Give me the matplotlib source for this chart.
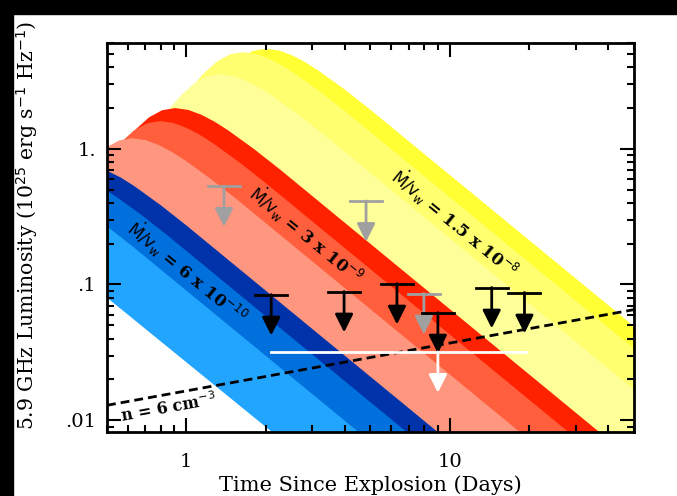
import matplotlib.pyplot as plt
from matplotlib.patches import Rectangle

plt.rcParams['font.family'] = ['DejaVu Serif']

# ---- model light curves (time in days, luminosity in 1e25 erg/s/Hz) ----
t_y1 = [0.49, 0.635, 0.800, 1.007, 1.268, 1.422, 1.596, 1.791, 2.009, 2.254, 2.529, 2.838, 3.184, 4.009, 5.047, 60.0]
L_y1 = [0.305, 0.561, 0.975, 1.694, 2.938, 3.793, 4.645, 5.248, 5.445, 5.272, 4.853, 4.315, 3.741, 2.710, 1.905, 0.0368]
t_y2 = [0.485, 0.520, 0.655, 0.824, 1.038, 1.164, 1.306, 1.466, 1.644, 1.845, 2.070, 2.323, 2.606, 3.281, 4.130, 60.0]
L_y2 = [0.449, 0.530, 0.920, 1.600, 2.773, 3.581, 4.385, 4.955, 5.140, 4.977, 4.581, 4.074, 3.532, 2.559, 1.799, 0.0252]
t_y3 = [0.478, 0.536, 0.675, 0.849, 0.953, 1.069, 1.199, 1.346, 1.510, 1.694, 1.901, 2.133, 2.685, 3.381, 60.0]
L_y3 = [0.480, 0.632, 1.099, 1.905, 2.460, 3.013, 3.404, 3.532, 3.420, 3.148, 2.799, 2.427, 1.758, 1.236, 0.01256]

t_r1 = [0.455, 0.573, 0.643, 0.721, 0.809, 0.908, 1.019, 1.143, 1.282, 1.439, 1.811, 2.280, 57.3]
L_r1 = [0.619, 1.074, 1.387, 1.698, 1.919, 1.991, 1.928, 1.774, 1.578, 1.368, 0.991, 0.697, 0.00406]
t_r2 = [0.491, 0.564, 0.633, 0.710, 0.797, 0.894, 1.003, 1.126, 1.263, 1.590, 2.002, 56.4]
L_r2 = [0.815, 1.112, 1.361, 1.538, 1.596, 1.545, 1.422, 1.265, 1.096, 0.794, 0.558, 0.00271]
t_r3 = [0.496, 0.557, 0.6245, 0.7007, 0.786, 0.882, 0.990, 1.246, 1.569, 31.3]
L_r3 = [1.019, 1.151, 1.194, 1.156, 1.064, 0.946, 0.820, 0.594, 0.418, 0.00352]

t_b1 = [0.492, 0.565, 0.634, 0.798, 1.005, 12.65]
L_b1 = [0.700, 0.612, 0.531, 0.385, 0.2704, 0.00476]
t_b2 = [0.494, 0.542, 0.682, 0.859, 10.81]
L_b2 = [0.497, 0.443, 0.321, 0.2254, 0.00397]
t_b3 = [0.491, 0.632, 7.96]
L_b3 = [0.276, 0.188, 0.00331]
t_low = [0.48, 3.0]
L_low = [0.0855, 0.00473]

# ---- upper limits ----
lim_t_black = [2.10, 3.97, 6.30, 9.01, 14.42, 19.2]
lim_L_black = [0.0843, 0.0888, 0.1016, 0.0621, 0.0950, 0.0873]
lim_t_gray = [1.39, 4.81, 7.97]
lim_L_gray = [0.532, 0.412, 0.0858]
white_t_range = [2.10, 19.4]
white_t = 9.01
white_L = 0.0319

# density line n = 6 cm^-3
n6_t = [0.5, 50.0]
n6_L = [0.0129, 0.0653]

curves = [
    (t_y1, L_y1, '#FFFF33'),
    (t_y2, L_y2, '#FFFF70'),
    (t_y3, L_y3, '#FFFF99'),
    (t_r1, L_r1, '#FF2200'),
    (t_r2, L_r2, '#FF5F3C'),
    (t_r3, L_r3, '#FF9680'),
    (t_b1, L_b1, '#0033AA'),
    (t_b2, L_b2, '#0070DD'),
    (t_b3, L_b3, '#22A5FF'),
    (t_low, L_low, 'white'),
]

fig = plt.figure(figsize=(6.77, 4.96), dpi=100, facecolor='white')
ax = fig.add_axes([0.158, 0.129, 0.7785, 0.7843])

for t, L, c in curves:
    ax.fill_between(t, L, 1e-4, color=c, lw=0)

ax.plot(n6_t, n6_L, color='black', lw=2, ls=(0, (3.2, 1.8)), zorder=3)

arrow_style = '-|>,head_length=1.1,head_width=0.55'


def upper_limit(t, L, c):
    ax.plot([t / 1.15, t * 1.15], [L, L], color=c, lw=2, zorder=4)
    ax.annotate('', xy=(t, L * 0.5), xytext=(t, L), zorder=4,
                arrowprops=dict(arrowstyle=arrow_style, color=c, lw=2,
                                shrinkA=0, shrinkB=0))


for t, L in zip(lim_t_gray, lim_L_gray):
    upper_limit(t, L, '#A0A0A0')
for t, L in zip(lim_t_black, lim_L_black):
    upper_limit(t, L, 'black')

ax.plot(white_t_range, [white_L, white_L], color='white', lw=2, zorder=4)
ax.annotate('', xy=(white_t, white_L * 0.5), xytext=(white_t, white_L), zorder=4,
            arrowprops=dict(arrowstyle=arrow_style, color='white', lw=2,
                            shrinkA=0, shrinkB=0))

# labels on the model bands
lab = dict(fontsize=12, fontweight='bold', ha='center', va='center',
           rotation=-39.3, rotation_mode='anchor', zorder=5)
ax.text(10.45, 0.283, r'$\dot{\rm M}/{\rm v}_{\rm w}$ = 1.5 x 10$^{-8}$', **lab)
ax.text(2.85, 0.2346, r'$\dot{\rm M}/{\rm v}_{\rm w}$ = 3 x 10$^{-9}$', **lab)
ax.text(1.009, 0.1248, r'$\dot{\rm M}/{\rm v}_{\rm w}$ = 6 x 10$^{-10}$', **lab)
ax.text(0.855, 0.01227, r'n = 6 cm$^{-3}$', fontsize=11.5, fontweight='bold',
        ha='center', va='center', rotation=10.3, rotation_mode='anchor', zorder=5)

ax.set_xscale('log')
ax.set_yscale('log')
ax.set_xlim(0.5, 50)
ax.set_ylim(0.0082, 6)
ax.set_xticks([1, 10])
ax.set_xticklabels(['1', '10'])
ax.set_yticks([0.01, 0.1, 1])
ax.set_yticklabels(['.01', '.1', '1.'])
ax.tick_params(which='both', direction='in', top=True, right=True, width=1.5,
               labelsize=14)
ax.tick_params(axis='x', pad=15)
ax.tick_params(axis='y', pad=8)
ax.tick_params(which='major', length=10)
ax.tick_params(which='minor', length=5)
for s in ax.spines.values():
    s.set_linewidth(2)

ax.set_xlabel('Time Since Explosion (Days)', fontsize=15, labelpad=3)
ax.set_ylabel(r'5.9 GHz Luminosity (10$^{25}$ erg s$^{-1}$ Hz$^{-1}$)', fontsize=14.7)
ax.yaxis.set_label_coords(-0.127, 0.53)

# black frame strips of the original screenshot
fig.patches.append(Rectangle((0, 1 - 14 / 496), 1, 14 / 496, transform=fig.transFigure,
                             color='black', zorder=10))
fig.patches.append(Rectangle((0, 0), 13 / 677, 1, transform=fig.transFigure,
                             color='black', zorder=10))

fig.savefig('out.png', dpi=100, facecolor='white')
